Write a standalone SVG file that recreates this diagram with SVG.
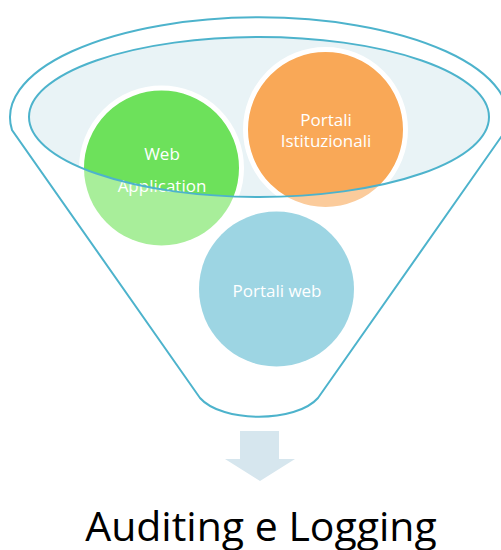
<svg xmlns="http://www.w3.org/2000/svg" width="501" height="550" viewBox="0 0 501 550">
  <style>
    .rim { fill: none; stroke: #4DB3CC; stroke-width: 2; }
    .label { fill: #FFFFFF; font-family: "Open Sans", "Liberation Sans", sans-serif; font-size: 17px; text-anchor: middle; }
    .title { fill: #000000; font-family: "Open Sans", "Liberation Sans", sans-serif; font-size: 41px; text-anchor: middle; }
  </style>
  <defs>
    <clipPath id="mouth">
      <ellipse cx="259" cy="117" rx="230" ry="80"/>
    </clipPath>
  </defs>

  <rect width="501" height="550" fill="#FFFFFF"/>

  <!-- funnel body and mouth -->
  <g id="funnel">
    <path class="rim" d="M12,130 A249,100 0 1 1 506,130 L318,398 C296,423 222,423 200,398 Z"/>
    <ellipse cx="259" cy="117" rx="230" ry="80" fill="#E9F3F6"/>
  </g>

  <g id="node-portali-web">
    <circle cx="276.5" cy="289" r="77.5" fill="#9DD5E3"/>
    <text class="label" x="277" y="297">Portali web</text>
  </g>

  <g id="node-web-application">
    <circle cx="161.5" cy="168" r="77.5" fill="#A8EE9A"/>
    <circle cx="161.5" cy="168" r="80" fill="#6DE15B" stroke="#FFFFFF" stroke-width="5" clip-path="url(#mouth)"/>
    <text class="label" x="162" y="160">Web</text>
    <text class="label" x="162" y="192">Application</text>
  </g>

  <g id="node-portali-istituzionali">
    <circle cx="325.5" cy="129.5" r="77.5" fill="#FBCB9B"/>
    <circle cx="325.5" cy="129.5" r="80" fill="#F9A857" stroke="#FFFFFF" stroke-width="5" clip-path="url(#mouth)"/>
    <text class="label" x="326" y="126">Portali</text>
    <text class="label" x="326" y="147">Istituzionali</text>
  </g>

  <!-- mouth outline drawn over the circles -->
  <ellipse class="rim" cx="259" cy="117" rx="230" ry="80"/>

  <g id="connectors">
    <path d="M240,431 H279 V459 H295 L260,481 L225,459 H240 Z" fill="#D6E6EE"/>
  </g>

  <g id="node-auditing">
    <text class="title" x="261" y="541">Auditing e Logging</text>
  </g>
</svg>
